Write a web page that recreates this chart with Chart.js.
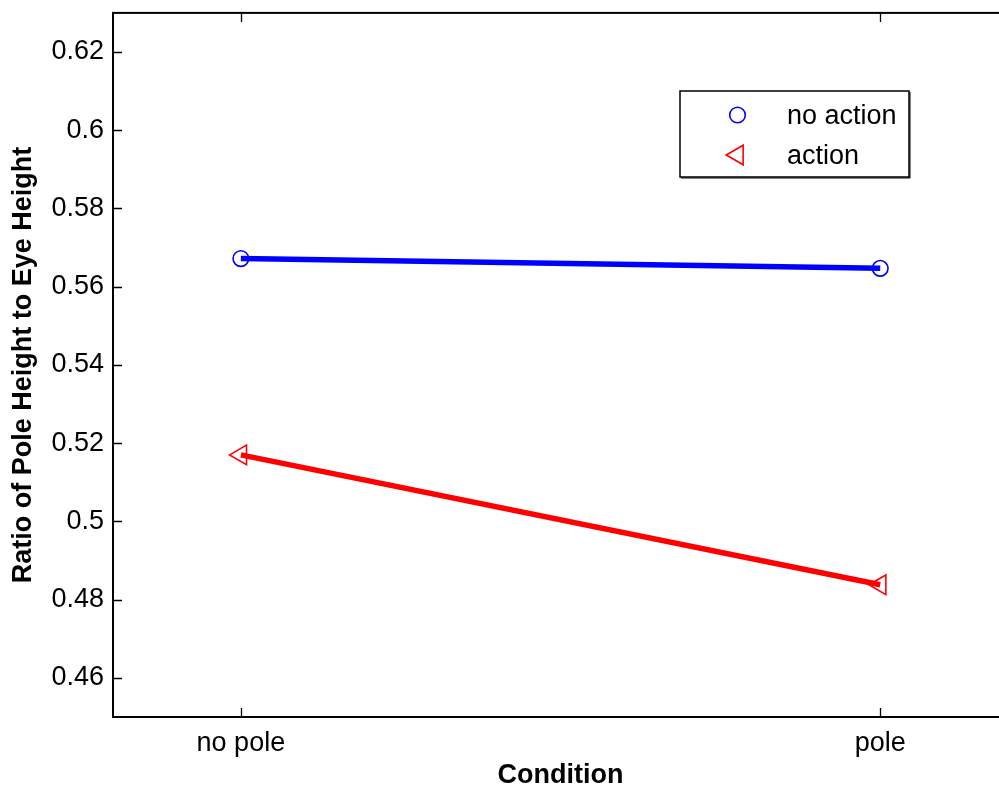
<!DOCTYPE html>
<html>
<head>
<meta charset="utf-8">
<title>Pole height ratio</title>
<script src="https://cdn.jsdelivr.net/npm/chart.js@4.4.1/dist/chart.umd.min.js"></script>
<style>
  html, body { margin: 0; padding: 0; background: #fff; overflow: hidden; }
  #wrap { position: absolute; left: 0; top: 0; width: 1021px; height: 787px; }
  canvas { display: block; }
</style>
</head>
<body>
<div id="wrap"><canvas id="chart" width="1021" height="787"></canvas></div>
<script>
'use strict';

// conditions along the x axis, placed at 1 and 2
var conditions = ['no pole', 'pole'];
var conditionPos = [1, 2];

// mean ratio of pole height to eye height
var noAction = [0.5672, 0.5647];
var action = [0.5170, 0.4838];

var yTicks = [0.46, 0.48, 0.5, 0.52, 0.54, 0.56, 0.58, 0.6, 0.62];

var FONT = "'Liberation Sans', Arial, Helvetica, sans-serif";

function toPoints (ys) {
  var pts = [];
  for (var i = 0; i < ys.length; i++) {
    pts.push({ x: conditionPos[i], y: ys[i] });
  }
  return pts;
}

// no extra room for labels hanging over the ends of an axis
function noOverhang (scale) {
  scale.paddingTop = 0;
  scale.paddingBottom = 0;
  scale.paddingLeft = 0;
  scale.paddingRight = 0;
}

// box around the axes, ticks pointing inward, legend inside the plot
var axesBox = {
  id: 'axesBox',
  afterDraw: function (chart) {
    var ctx = chart.ctx;
    var a = chart.chartArea;
    var xs = chart.scales.x;
    var ys = chart.scales.y;
    var tl = 9;

    ctx.save();
    ctx.strokeStyle = '#000';
    ctx.lineWidth = 1.3;
    ctx.beginPath();
    xs.ticks.forEach(function (t) {
      var px = Math.round(xs.getPixelForValue(t.value)) + 0.5;
      ctx.moveTo(px, a.bottom);
      ctx.lineTo(px, a.bottom - tl);
      ctx.moveTo(px, a.top);
      ctx.lineTo(px, a.top + tl);
    });
    ys.ticks.forEach(function (t) {
      var py = Math.round(ys.getPixelForValue(t.value)) + 0.5;
      ctx.moveTo(a.left, py);
      ctx.lineTo(a.left + tl, py);
      ctx.moveTo(a.right, py);
      ctx.lineTo(a.right - tl, py);
    });
    ctx.stroke();

    ctx.lineWidth = 2;
    ctx.strokeRect(a.left, a.top, a.right - a.left, a.bottom - a.top);

    // legend
    var lx = 680, ly = 91, lw = 229, lh = 86;
    ctx.fillStyle = '#fff';
    ctx.fillRect(lx, ly, lw, lh);
    ctx.lineWidth = 1.5;
    ctx.strokeRect(lx, ly, lw, lh);
    ctx.beginPath();
    ctx.moveTo(lx + 1, ly + lh + 1);
    ctx.lineTo(lx + lw + 1, ly + lh + 1);
    ctx.lineTo(lx + lw + 1, ly + 1);
    ctx.lineWidth = 1;
    ctx.stroke();

    var rows = [115, 155];
    chart.data.datasets.forEach(function (ds, i) {
      ctx.strokeStyle = ds.borderColor;
      ctx.fillStyle = 'rgba(0,0,0,0)';
      ctx.lineWidth = ds.pointBorderWidth;
      Chart.helpers.drawPoint(ctx, {
        pointStyle: ds.pointStyle,
        radius: ds.pointRadius,
        rotation: ds.pointRotation || 0,
        borderWidth: ds.pointBorderWidth
      }, 737.5, rows[i]);
      ctx.fillStyle = '#000';
      ctx.font = '27px ' + FONT;
      ctx.textAlign = 'left';
      ctx.textBaseline = 'middle';
      ctx.fillText(ds.label, 787, rows[i] + 1.5);
    });
    ctx.restore();
  }
};

var ctx = document.getElementById('chart').getContext('2d');
var chart = new Chart(ctx, {
  type: 'line',
  data: {
    datasets: [{
      label: 'no action',
      data: toPoints(noAction),
      borderColor: '#0000ff',
      borderWidth: 5.5,
      pointStyle: 'circle',
      pointRadius: 7.8,
      pointBorderWidth: 1.6,
      pointBorderColor: '#0000ff',
      pointBackgroundColor: 'rgba(0,0,0,0)'
    }, {
      label: 'action',
      data: toPoints(action),
      borderColor: '#ff0000',
      borderWidth: 5.5,
      pointStyle: 'triangle',
      pointRotation: -90,
      pointRadius: 11.3,
      pointBorderWidth: 1.6,
      pointBorderColor: '#ff0000',
      pointBackgroundColor: 'rgba(0,0,0,0)'
    }]
  },
  options: {
    responsive: false,
    animation: false,
    devicePixelRatio: 1,
    layout: { padding: { top: 11, left: 0, right: 2, bottom: 0 } },
    plugins: {
      legend: { display: false },
      tooltip: { enabled: false }
    },
    scales: {
      x: {
        type: 'linear',
        min: 0.8,
        max: 2.2,
        grid: { display: false, drawTicks: false },
        border: { display: false },
        afterBuildTicks: function (scale) {
          scale.ticks = conditionPos.map(function (v) { return { value: v }; });
        },
        afterFit: function (scale) {
          scale.height = 70;
          noOverhang(scale);
        },
        ticks: {
          autoSkip: false,
          maxRotation: 0,
          padding: 10,
          color: '#000',
          font: { family: FONT, size: 27 },
          callback: function (v) { return conditions[conditionPos.indexOf(v)]; }
        },
        title: {
          display: true,
          text: 'Condition',
          color: '#000',
          font: { family: FONT, size: 27, weight: 'bold', lineHeight: 1 },
          padding: { top: 0, bottom: -2 }
        }
      },
      y: {
        min: 0.45,
        max: 0.63,
        grid: { display: false, drawTicks: false },
        border: { display: false },
        afterBuildTicks: function (scale) {
          scale.ticks = yTicks.map(function (v) { return { value: v }; });
        },
        afterFit: function (scale) {
          scale.width = 113;
          noOverhang(scale);
        },
        ticks: {
          padding: 9,
          color: '#000',
          font: { family: FONT, size: 27 },
          callback: function (v) { return String(v); }
        },
        title: {
          display: true,
          text: 'Ratio of Pole Height to Eye Height',
          color: '#000',
          font: { family: FONT, size: 27, weight: 'bold', lineHeight: 1 },
          padding: { top: 10, bottom: 0 }
        }
      }
    }
  },
  plugins: [axesBox]
});
</script>
</body>
</html>
